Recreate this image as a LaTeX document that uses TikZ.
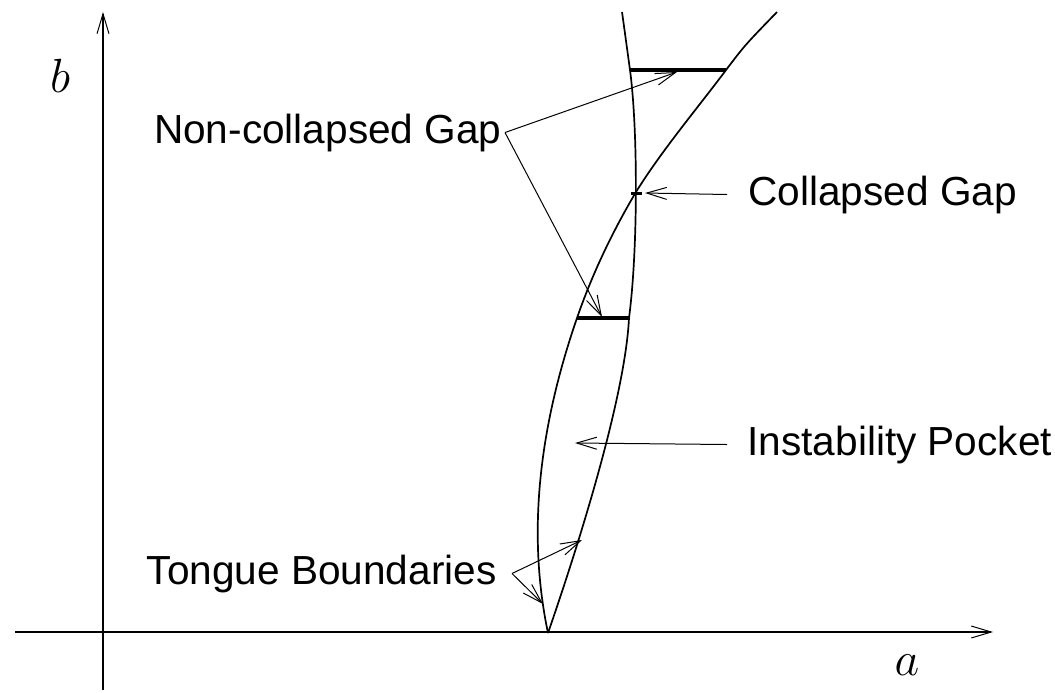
\documentclass[tikz,border=0pt]{standalone}
\usepackage{fix-cm}
\usepackage{fontspec}
\newfontfamily\labelfont{Liberation Sans}
\usetikzlibrary{arrows.meta}

\tikzset{
    barb/.style={-{Straight Barb[length=10pt,width=6pt,line width=0.5pt]}},
    pointer/.style={barb, line width=0.5pt},
    axis/.style={barb, line width=0.6pt},
    tongue/.style={line width=0.85pt},
    gapbar/.style={line width=2pt},
    tag/.style={font=\labelfont\fontsize{20.3}{24}\selectfont, inner ysep=2pt},
    var/.style={font=\fontsize{24}{28}\selectfont}
}

\begin{document}
\begin{tikzpicture}[x=0.5pt, y=-0.5pt]
\useasboundingbox (0,0) rectangle (1055,692);

% Axes
\draw[axis] (15,632) -- (993,632);
\draw[axis] (103,690) -- (103,12);
\node[var] (alab) at (907,665) {$a$};
\node[var] (blab) at (60,76) {$b$};

% Tongue boundaries
\coordinate (tip) at (548,633);
\coordinate (cross) at (636,192);
\coordinate (lowL) at (577,318);
\coordinate (lowR) at (629,318);
\coordinate (upL) at (630,70);
\coordinate (upR) at (726,70);
\draw[tongue] (tip) .. controls (527,533) and (539,428) .. (lowL)
    .. controls (596,263) and (620,219) .. (cross)
    .. controls (662,150) and (700,105) .. (upR)
    .. controls (745,45) .. (777,12);
\draw[tongue] (tip) .. controls (575,555) and (625,400) .. (lowR)
    .. controls (638,250) and (638,130) .. (upL)
    .. controls (626,41) and (624,26) .. (622,12);

% Gaps
\draw[gapbar] (upL) -- (upR);
\draw[gapbar] (lowL) -- (lowR);
\draw[line width=1.5pt] (631,193) -- (642,193);

% Labels
\node[tag, anchor=base east, inner xsep=1.5pt] (ncg) at (505,143) {Non-collapsed Gap};
\node[tag, anchor=base west, inner xsep=10.5pt] (cg) at (727,205) {Collapsed Gap};
\node[tag, anchor=base west, inner xsep=10pt] (ip) at (727,455) {Instability Pocket};
\node[tag, anchor=base east, inner xsep=7.5pt] (tb) at (512,584) {Tongue Boundaries};

% Pointers
\coordinate (ncgA) at (677,72);
\coordinate (ncgB) at (602,317);
\coordinate (cgT) at (645,193);
\coordinate (ipT) at (575,443);
\coordinate (tbA) at (582,540);
\coordinate (tbB) at (543,604);
\draw[pointer] (ncg.east) -- (ncgA);
\draw[pointer] (ncg.east) -- (ncgB);
\draw[pointer] (cg.west) -- (cgT);
\draw[pointer] (ip.west) -- (ipT);
\draw[pointer] (tb.east) -- (tbA);
\draw[pointer] (tb.east) -- (tbB);

\end{tikzpicture}
\end{document}
